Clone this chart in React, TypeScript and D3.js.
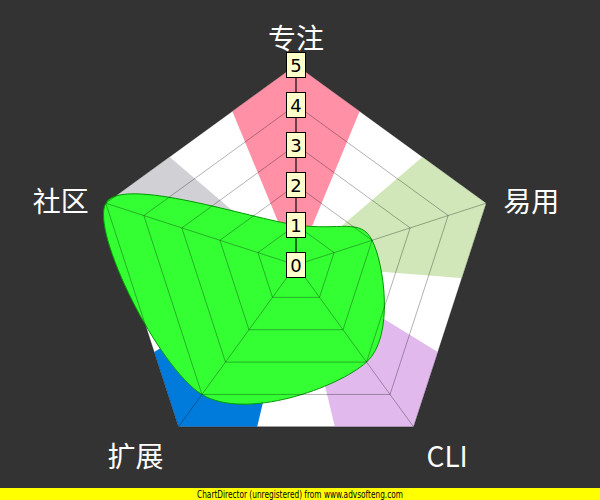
import React from "react";
import * as d3 from "d3";

const axes = ["专注", "易用", "CLI", "扩展", "社区"];
const values = [1, 2, 3, 4, 5];
const zoneColors = ["#ff90a6", "#d1e6b9", "#e1b9ec", "#007bdb", "#d1d1d5"];
const ticks = [0, 1, 2, 3, 4, 5];

const W = 600, H = 500;
const cx = 296, cy = 265, R = 200;

export default function App() {
  const r = d3.scaleLinear().domain([0, 5]).range([0, R]);
  const ang = (i: number) => (i * 2 * Math.PI) / axes.length;
  const pt = (i: number, v: number): [number, number] => [
    cx + r(v) * Math.sin(ang(i)),
    cy - r(v) * Math.cos(ang(i)),
  ];
  const poly = (v: number) => axes.map((_, i) => pt(i, v).join(",")).join(" ");
  const half = Math.PI / 8;
  const arc = d3.arc();
  const area = d3
    .line<number>()
    .x((v, i) => pt(i, v)[0])
    .y((v, i) => pt(i, v)[1])
    .curve(d3.curveCardinalClosed.tension(0));

  const labelPos = (i: number) => {
    const [x, y] = pt(i, 5);
    const a = ang(i);
    const s = Math.sin(a);
    if (Math.abs(s) < 0.1) return { x, y: y - 28, anchor: "middle" };
    if (Math.cos(a) > 0) return { x: x + (s > 0 ? 17 : -17), y: y - 3, anchor: s > 0 ? "start" : "end" };
    return { x: x + (s > 0 ? 13 : -15), y: y + 28, anchor: s > 0 ? "start" : "end" };
  };

  return (
    <svg width={W} height={H} style={{ position: "absolute", left: 0, top: 0 }}>
      <defs>
        <clipPath id="pent">
          <polygon points={poly(5)} />
        </clipPath>
      </defs>
      <rect x={0} y={0} width={W} height={H} fill="#333333" />
      <polygon points={poly(5)} fill="#ffffff" />
      <g clipPath="url(#pent)">
        <g transform={`translate(${cx},${cy})`}>
          {axes.map((_, i) => (
            <path
              key={i}
              d={arc({ innerRadius: 0, outerRadius: 400, startAngle: ang(i) - half, endAngle: ang(i) + half } as any) || ""}
              fill={zoneColors[i]}
            />
          ))}
        </g>
      </g>
      <path d={area(values) || ""} fill="#33ff33" stroke="#009900" strokeWidth={1} />
      <g fill="none" stroke="rgba(0,0,0,0.3)" strokeWidth={1}>
        {ticks.slice(1).map((t) => (
          <polygon key={t} points={poly(t)} />
        ))}
        {axes.map((_, i) => {
          const [x, y] = pt(i, 5);
          return <line key={i} x1={cx} y1={cy} x2={x} y2={y} />;
        })}
      </g>
      <line x1={cx} y1={cy} x2={cx} y2={cy - R} stroke="#000" strokeWidth={1} />
      {ticks.map((t) => (
        <g key={t} transform={`translate(${cx},${cy - r(t)})`}>
          <rect x={-9.5} y={-12.5} width={19} height={25} fill="#ffffcc" stroke="#000" strokeWidth={1} />
          <text x={0} y={7} textAnchor="middle" fontFamily="DejaVu Sans" fontSize={18} fill="#000">
            {t}
          </text>
        </g>
      ))}
      {axes.map((a, i) => {
        const p = labelPos(i);
        return (
          <text
            key={a}
            x={p.x}
            y={p.y}
            textAnchor={p.anchor as any}
            dominantBaseline="central"
            fontFamily="Noto Sans CJK SC"
            fontSize={28}
            fill="#ffffff"
          >
            {a}
          </text>
        );
      })}
      <rect x={0} y={488} width={W} height={12} fill="#ffff00" />
      <text
        x={197}
        y={498}
        textLength={206}
        lengthAdjust="spacingAndGlyphs"
        fontFamily="DejaVu Sans Condensed, DejaVu Sans"
        fontSize={10}
        fill="#000"
      >
        ChartDirector (unregistered) from www.advsofteng.com
      </text>
    </svg>
  );
}
